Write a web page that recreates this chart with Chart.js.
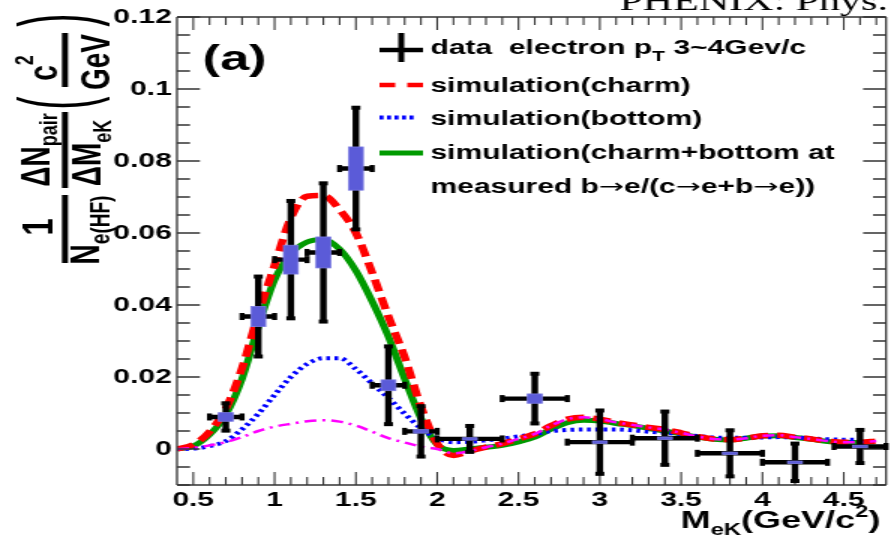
<!DOCTYPE html>
<html>
<head>
<meta charset="utf-8">
<script src="https://cdn.jsdelivr.net/npm/chart.js@4.4.1/dist/chart.umd.min.js"></script>
<style>
  body { margin: 0; background: #fff; }
  #c { width: 891px !important; height: 536px !important; display: block; }
</style>
</head>
<body>
<canvas id="c" width="594" height="536" style="width:891px;height:536px"></canvas>
<script>
// the picture is a horizontally stretched ROOT plot: draw at 594 wide, show at 891
const SX = 891 / 594;

// curves, sampled on a 0.1 grid in M_eK
const curveX = [0.4, 0.5, 0.6, 0.7, 0.8, 0.9, 1.0, 1.1, 1.2, 1.3, 1.4, 1.5, 1.6, 1.7, 1.8, 1.9, 2.0, 2.1, 2.2, 2.3, 2.4, 2.5,
  2.6, 2.7, 2.8, 2.9, 3.0, 3.1, 3.2, 3.3, 3.4, 3.5, 3.6, 3.7, 3.8, 3.9, 4.0, 4.1, 4.2, 4.3, 4.4, 4.5, 4.6, 4.7];
const charmY = [0, 0.0012, 0.0048, 0.0112, 0.0225, 0.0375, 0.0510, 0.0642, 0.0702, 0.0704, 0.0665, 0.0600, 0.0490, 0.0368,
  0.0255, 0.0118, 0.0015, -0.0018, -0.0006, 0.0005, 0.0015, 0.0028, 0.0042, 0.0065, 0.0083, 0.0088, 0.0083, 0.0074, 0.0067,
  0.0060, 0.0054, 0.0045, 0.0035, 0.0028, 0.0026, 0.0030, 0.0037, 0.0038, 0.0033, 0.0028, 0.0022, 0.0019, 0.0019, 0.0022];
const bottomY = [0, 0.0001, 0.0008, 0.0022, 0.0055, 0.0098, 0.0150, 0.0200, 0.0236, 0.0252, 0.0252, 0.0222, 0.0182, 0.0142,
  0.0098, 0.0058, 0.0030, 0.0019, 0.0020, 0.0024, 0.0029, 0.0035, 0.0042, 0.0050, 0.0053, 0.0054, 0.0054, 0.0054, 0.0052,
  0.0048, 0.0045, 0.0041, 0.0036, 0.0032, 0.0031, 0.0031, 0.0032, 0.0033, 0.0032, 0.0029, 0.0027, 0.0026, 0.0026, null];
const sumY = [0, 0.0008, 0.0040, 0.0095, 0.0195, 0.0340, 0.0470, 0.0542, 0.0575, 0.0582, 0.0555, 0.0495, 0.0410, 0.0312,
  0.0195, 0.0085, 0.0012, -0.0004, 0, 0.0005, 0.0010, 0.0020, 0.0033, 0.0055, 0.0073, 0.0080, 0.0078, 0.0071, 0.0065,
  0.0057, 0.0050, 0.0042, 0.0033, 0.0027, 0.0025, 0.0030, 0.0036, 0.0037, 0.0032, 0.0027, 0.0021, 0.0018, 0.0018, null];
const otherY = [0, 0.0003, 0.0010, 0.0019, 0.0033, 0.0050, 0.0062, 0.0070, 0.0077, 0.0080, 0.0076, 0.0065, 0.0048, 0.0030,
  0.0018, 0.0007, 0, -0.0012, -0.0006, 0.0005, 0.0015, 0.0028, 0.0042, 0.0065, 0.0083, 0.0088, 0.0083, 0.0074, 0.0067,
  0.0060, 0.0054, 0.0045, 0.0035, 0.0028, 0.0026, 0.0030, 0.0037, 0.0038, 0.0033, 0.0028, 0.0022, 0.0019, 0.0019, 0.0022];

// data points
const dataX = [0.7, 0.9, 1.1, 1.3, 1.5, 1.7, 1.9, 2.2, 2.6, 3.0, 3.4, 3.8, 4.2, 4.6];
const dataY = [0.0089, 0.0368, 0.0526, 0.0546, 0.0779, 0.0177, 0.0049, 0.0028, 0.0140, 0.0019, 0.0030, -0.0012, -0.0037, 0.0007];
const errY = [0.0038, 0.0111, 0.0163, 0.0192, 0.0169, 0.0108, 0.0070, 0.0036, 0.0069, 0.0088, 0.0074, 0.0064, 0.0052, 0.0046];
const errX = [0.1, 0.1, 0.1, 0.1, 0.1, 0.1, 0.1, 0.2, 0.2, 0.2, 0.2, 0.2, 0.2, 0.16];
const sysY = [0.0012, 0.0028, 0.0040, 0.0043, 0.0060, 0.0015, 0.0005, 0.0003, 0.0013, 0.0002, 0.0003, 0.0002, 0.0002, 0.0003];

const xTicks = [0.5, 1, 1.5, 2, 2.5, 3, 3.5, 4, 4.5];
const xTickLabels = ['0.5', '1', '1.5', '2', '2.5', '3', '3.5', '4', '4.5'];
const yTicks = [0, 0.02, 0.04, 0.06, 0.08, 0.1, 0.12];
const yTickLabels = ['0', '0.02', '0.04', '0.06', '0.08', '0.1', '0.12'];

const SANS = "'Liberation Sans', Arial, sans-serif";

function pts(ys) {
    return curveX.map((x, i) => ({x: x, y: ys[i]}));
}

// draw a row of text pieces, each with its own font and vertical shift
function runs(ctx, x, y, list) {
    ctx.textAlign = 'left';
    ctx.textBaseline = 'alphabetic';
    for (const r of list) {
        ctx.font = r.f;
        ctx.fillText(r.t, x, y + (r.dy || 0));
        x += ctx.measureText(r.t).width;
    }
    return x;
}

function runsWidth(ctx, list) {
    let w = 0;
    for (const r of list) { ctx.font = r.f; w += ctx.measureText(r.t).width; }
    return w;
}

// rotated text for the y title, coordinates in screen pixels
function rtext(ctx, list, yc, xb, s) {
    ctx.save();
    ctx.translate(xb, yc);
    ctx.rotate(-Math.PI / 2);
    ctx.scale(1, s);
    const w = runsWidth(ctx, list);
    runs(ctx, -w / 2, 0, list);
    ctx.restore();
}

const decor = {
    id: 'decor',
    afterDatasetsDraw(chart) {
        const ctx = chart.ctx;
        const xs = chart.scales.x, ys = chart.scales.y;
        const {left, right, top, bottom} = chart.chartArea;
        ctx.save();
        ctx.strokeStyle = '#333';
        // frame
        ctx.lineWidth = 1.6;
        ctx.beginPath();
        ctx.moveTo(left, top); ctx.lineTo(right, top);
        ctx.moveTo(left, bottom); ctx.lineTo(right, bottom);
        ctx.stroke();
        ctx.lineWidth = 1.3;
        ctx.beginPath();
        ctx.moveTo(left, top); ctx.lineTo(left, bottom);
        ctx.moveTo(right, top); ctx.lineTo(right, bottom);
        ctx.stroke();
        // x ticks, inward on bottom and top
        ctx.lineWidth = 1.1;
        ctx.beginPath();
        for (let k = 5; k <= 47; k++) {
            const px = xs.getPixelForValue(k / 10);
            const len = k % 5 === 0 ? 13 : 8;
            ctx.moveTo(px, bottom); ctx.lineTo(px, bottom - len);
            ctx.moveTo(px, top); ctx.lineTo(px, top + len);
        }
        ctx.stroke();
        // y ticks, inward on left and right
        ctx.lineWidth = 1.5;
        ctx.beginPath();
        for (let k = -2; k <= 24; k++) {
            const py = ys.getPixelForValue(k * 0.005);
            const len = k % 4 === 0 ? 15.3 : 8.7;
            ctx.moveTo(left, py); ctx.lineTo(left + len, py);
            ctx.moveTo(right, py); ctx.lineTo(right - len, py);
        }
        ctx.stroke();

        // error bars
        ctx.strokeStyle = '#000';
        ctx.fillStyle = '#000';
        ctx.lineWidth = 4.4;
        for (let i = 0; i < dataX.length; i++) {
            const cx = xs.getPixelForValue(dataX[i]);
            const cy = ys.getPixelForValue(dataY[i]);
            const x0 = xs.getPixelForValue(dataX[i] - errX[i]);
            const x1 = xs.getPixelForValue(dataX[i] + errX[i]);
            const y0 = ys.getPixelForValue(dataY[i] + errY[i]);
            const y1 = ys.getPixelForValue(dataY[i] - errY[i]);
            ctx.beginPath();
            ctx.moveTo(cx, y0); ctx.lineTo(cx, y1);
            ctx.moveTo(x0, cy); ctx.lineTo(x1, cy);
            ctx.stroke();
            ctx.fillRect(cx - 3, y0 - 2, 6, 4);
            ctx.fillRect(cx - 3, y1 - 2, 6, 4);
            ctx.fillRect(x0 - 1.7, cy - 3.5, 3.4, 7);
            ctx.fillRect(x1 - 1.7, cy - 3.5, 3.4, 7);
        }
        // systematic boxes
        ctx.fillStyle = '#5b5bd8';
        ctx.strokeStyle = '#7a7ae2';
        ctx.lineWidth = 0.8;
        for (let i = 0; i < dataX.length; i++) {
            const bx0 = xs.getPixelForValue(dataX[i] - 0.045);
            const bx1 = xs.getPixelForValue(dataX[i] + 0.045);
            const by0 = ys.getPixelForValue(dataY[i] + sysY[i]);
            const by1 = ys.getPixelForValue(dataY[i] - sysY[i]);
            const h = Math.max(by1 - by0, 2.5);
            const yy = (by0 + by1) / 2 - h / 2;
            ctx.fillRect(bx0, yy, bx1 - bx0, h);
            ctx.strokeRect(bx0, yy, bx1 - bx0, h);
        }
        ctx.restore();
    },
    afterDraw(chart) {
        const ctx = chart.ctx;
        ctx.save();
        ctx.fillStyle = '#000';
        const B20 = 'bold 20px ' + SANS;
        const B14 = 'bold 14px ' + SANS;

        // (a)
        runs(ctx, 135, 70, [{t: '(a)', f: 'bold 35px ' + SANS}]);

        // legend symbols
        ctx.strokeStyle = '#000';
        ctx.lineWidth = 4.5;
        ctx.beginPath();
        ctx.moveTo(253, 50); ctx.lineTo(282, 50);
        ctx.stroke();
        ctx.lineWidth = 4;
        ctx.beginPath();
        ctx.moveTo(267.5, 33); ctx.lineTo(267.5, 62);
        ctx.stroke();
        ctx.strokeStyle = '#ff0000';
        ctx.lineWidth = 4.5;
        ctx.beginPath();
        ctx.moveTo(253, 85); ctx.lineTo(263.5, 85);
        ctx.moveTo(271.5, 85); ctx.lineTo(282, 85);
        ctx.stroke();
        ctx.strokeStyle = '#0000ff';
        ctx.lineWidth = 4;
        ctx.setLineDash([2.7, 2.3]);
        ctx.beginPath();
        ctx.moveTo(253, 117.5); ctx.lineTo(278, 117.5);
        ctx.stroke();
        ctx.setLineDash([]);
        ctx.strokeStyle = '#009a00';
        ctx.lineWidth = 5;
        ctx.beginPath();
        ctx.moveTo(253, 153); ctx.lineTo(282, 153);
        ctx.stroke();

        // legend text
        const ARROW = '20px DejaVu Sans';
        runs(ctx, 287, 54, [{t: 'data  electron p', f: B20}, {t: 'T', f: B14, dy: 7}, {t: ' 3~4Gev/c', f: B20}]);
        runs(ctx, 287, 92, [{t: 'simulation(charm)', f: B20}]);
        runs(ctx, 287, 125, [{t: 'simulation(bottom)', f: B20}]);
        runs(ctx, 287, 159, [{t: 'simulation(charm+bottom at', f: B20}]);
        runs(ctx, 287, 193, [{t: 'measured b', f: B20}, {t: '\u2192', f: ARROW}, {t: 'e/(c', f: B20}, {t: '\u2192', f: ARROW},
            {t: 'e+b', f: B20}, {t: '\u2192', f: ARROW}, {t: 'e))', f: B20}]);

        // x axis title, right aligned at the frame end
        const xt = [{t: 'M', f: 'bold 24px ' + SANS}, {t: 'eK', f: 'bold 16px ' + SANS, dy: 7},
            {t: '(GeV/c', f: 'bold 24px ' + SANS}, {t: '2', f: 'bold 16px ' + SANS, dy: -11}, {t: ')', f: 'bold 24px ' + SANS}];
        runs(ctx, 587 - runsWidth(ctx, xt), 528, xt);

        // cut off journal line at the top
        runs(ctx, 413, 10, [{t: 'PHENIX: Phys.', f: "28px 'Liberation Serif', 'Times New Roman', serif"}]);

        // y axis title, drawn in screen pixels
        ctx.save();
        ctx.scale(1 / SX, 1);
        ctx.fillRect(62, 195, 6, 68);
        ctx.fillRect(62, 112, 6, 76);
        ctx.fillRect(62, 33, 6, 54);
        const M = 'bold 28px ' + SANS, S = 'bold 18px ' + SANS;
        const st = 1.45;
        rtext(ctx, [{t: '1', f: 'bold 31px ' + SANS}], 227, 53, st);
        rtext(ctx, [{t: 'N', f: M}, {t: 'e(HF)', f: 'bold 19px ' + SANS, dy: 7}], 230, 99, st);
        rtext(ctx, [{t: '\u0394N', f: M}, {t: 'pair', f: S, dy: 5}], 150, 49, st);
        rtext(ctx, [{t: '\u0394M', f: M}, {t: 'eK', f: S, dy: 7}], 153, 101, st);
        rtext(ctx, [{t: 'c', f: M}, {t: '2', f: S, dy: -17}], 68, 57, st);
        rtext(ctx, [{t: 'GeV', f: M}], 62, 110, st);
        const P = "40px " + SANS;
        rtext(ctx, [{t: '(', f: P}], 103, 88, 2.5);
        rtext(ctx, [{t: ')', f: P}], 20, 88, 2.5);
        ctx.restore();

        ctx.restore();
    }
};

const tickFont = {family: SANS, size: 20, weight: 'bold'};

const chart = new Chart(document.getElementById('c'), {
    type: 'line',
    data: {
        datasets: [
            {data: pts(otherY), borderColor: '#ff00ff', borderWidth: 2.5, borderDash: [8, 4, 2, 4]},
            {data: pts(charmY), borderColor: '#ff0000', borderWidth: 5.5, borderDash: [12, 6]},
            {data: pts(bottomY), borderColor: '#0000ff', borderWidth: 4, borderDash: [2.5, 3]},
            {data: pts(sumY), borderColor: '#009a00', borderWidth: 5}
        ]
    },
    options: {
        responsive: false,
        animation: false,
        devicePixelRatio: 1,
        layout: {padding: {top: 17, right: 3.3, left: 0, bottom: 0}},
        plugins: {legend: {display: false}, tooltip: {enabled: false}},
        elements: {point: {radius: 0}, line: {cubicInterpolationMode: 'monotone', fill: false}},
        scales: {
            x: {
                type: 'linear', min: 0.4, max: 4.76,
                afterFit: s => { s.height = 51; },
                afterBuildTicks: s => { s.ticks = xTicks.map(v => ({value: v})); },
                grid: {display: false, drawTicks: false},
                border: {display: false},
                ticks: {font: tickFont, color: '#000', padding: 3, maxRotation: 0, autoSkip: false,
                    callback: (v, i) => xTickLabels[i]}
            },
            y: {
                min: -0.01, max: 0.12,
                afterFit: s => { s.width = 118; },
                afterBuildTicks: s => { s.ticks = yTicks.map(v => ({value: v})); },
                grid: {display: false, drawTicks: false},
                border: {display: false},
                ticks: {font: tickFont, color: '#000', padding: 3.5, autoSkip: false,
                    callback: (v, i) => yTickLabels[i]}
            }
        }
    },
    plugins: [decor]
});
chart.canvas.style.width = '891px';
chart.canvas.style.height = '536px';
</script>
</body>
</html>
